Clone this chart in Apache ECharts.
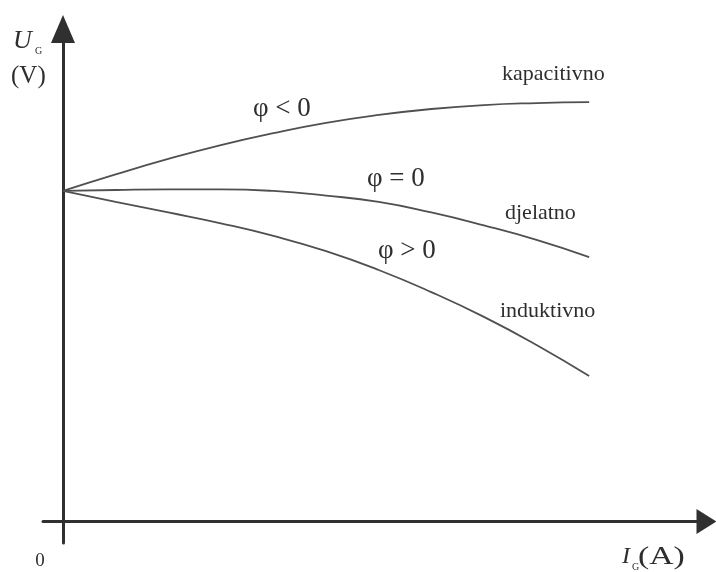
<!DOCTYPE html>
<html>
<head>
<meta charset="utf-8">
<script src="https://cdn.jsdelivr.net/npm/echarts@6/dist/echarts.min.js"></script>
<style>
  html, body { margin: 0; padding: 0; background: #ffffff; }
  #chart { width: 716px; height: 572px; }
</style>
</head>
<body>
<div id="chart"></div>
<script>
// Generator current I_G (relative units)
const currentIG = [0, 1, 2, 3, 4, 5, 6, 7, 8, 9, 10];
// Terminal voltage U_G for the three load types
const capacitive = [10.00, 10.50, 10.97, 11.39, 11.75, 12.06, 12.30, 12.48, 12.60, 12.66, 12.69];
const resistive  = [10.00, 10.03, 10.05, 10.05, 10.00, 9.86, 9.67, 9.35, 8.96, 8.52, 8.00];
const inductive  = [10.00, 9.67, 9.35, 9.02, 8.64, 8.18, 7.61, 6.94, 6.19, 5.34, 4.40];

const curveNames = ['kapacitivno', 'djelatno', 'induktivno'];
const phaseLabels = ['φ < 0', 'φ = 0', 'φ > 0'];

const toPairs = (ys) => currentIG.map((x, i) => [x, ys[i]]);

const serif = '"Liberation Serif", "DejaVu Serif", serif';
const textColor = '#2e2e2e';
const curveColor = '#505050';
const axisColor = '#303030';

const chart = echarts.init(document.getElementById('chart'), null, { renderer: 'canvas' });

const curveStyle = { color: curveColor, width: 1.8 };

function txt(text, x, y, size, opts) {
  opts = opts || {};
  return {
    type: 'text',
    x: x, y: y,
    silent: true,
    scaleX: opts.scaleX || 1,
    style: {
      text: text,
      font: (opts.italic ? 'italic ' : '') + size + 'px ' + serif,
      fill: textColor,
      textAlign: opts.align || 'left',
      textVerticalAlign: 'middle'
    }
  };
}

chart.setOption({
  animation: false,
  backgroundColor: '#ffffff',
  grid: { left: 43, right: 9.5, top: 29, bottom: 29, containLabel: false },
  xAxis: {
    type: 'value',
    min: -0.38, max: 12.23,
    axisLine: {
      show: true, onZero: true,
      lineStyle: { color: axisColor, width: 3 },
      symbol: ['none', 'triangle'],
      symbolSize: [25, 20]
    },
    axisTick: { show: false },
    axisLabel: { show: false },
    splitLine: { show: false }
  },
  yAxis: {
    type: 'value',
    min: -0.65, max: 14.90,
    axisLine: {
      show: true, onZero: true,
      lineStyle: { color: axisColor, width: 3 },
      symbol: ['none', 'triangle'],
      symbolSize: [24, 28]
    },
    axisTick: { show: false },
    axisLabel: { show: false },
    splitLine: { show: false }
  },
  series: [
    { name: curveNames[0], type: 'line', data: toPairs(capacitive), smooth: true, showSymbol: false, lineStyle: curveStyle, silent: true },
    { name: curveNames[1], type: 'line', data: toPairs(resistive), smooth: true, showSymbol: false, lineStyle: curveStyle, silent: true },
    { name: curveNames[2], type: 'line', data: toPairs(inductive), smooth: true, showSymbol: false, lineStyle: curveStyle, silent: true }
  ],
  graphic: {
    elements: [
      // axis titles
      txt('U', 13, 41, 26, { italic: true }),
      txt('G', 35, 51, 10),
      txt('(V)', 11, 76, 25),
      txt('I', 622, 557, 24, { italic: true }),
      txt('G', 632, 567, 10),
      txt('(A)', 638, 557, 25, { scaleX: 1.35 }),
      txt('0', 40, 561, 19, { align: 'center' }),
      // curve names
      txt(curveNames[0], 502, 74, 22),
      txt(curveNames[1], 505, 213, 22),
      txt(curveNames[2], 500, 311, 22),
      // phase labels
      txt(phaseLabels[0], 253, 109, 27),
      txt(phaseLabels[1], 367, 179, 27),
      txt(phaseLabels[2], 378, 251, 27)
    ]
  }
});
</script>
</body>
</html>
